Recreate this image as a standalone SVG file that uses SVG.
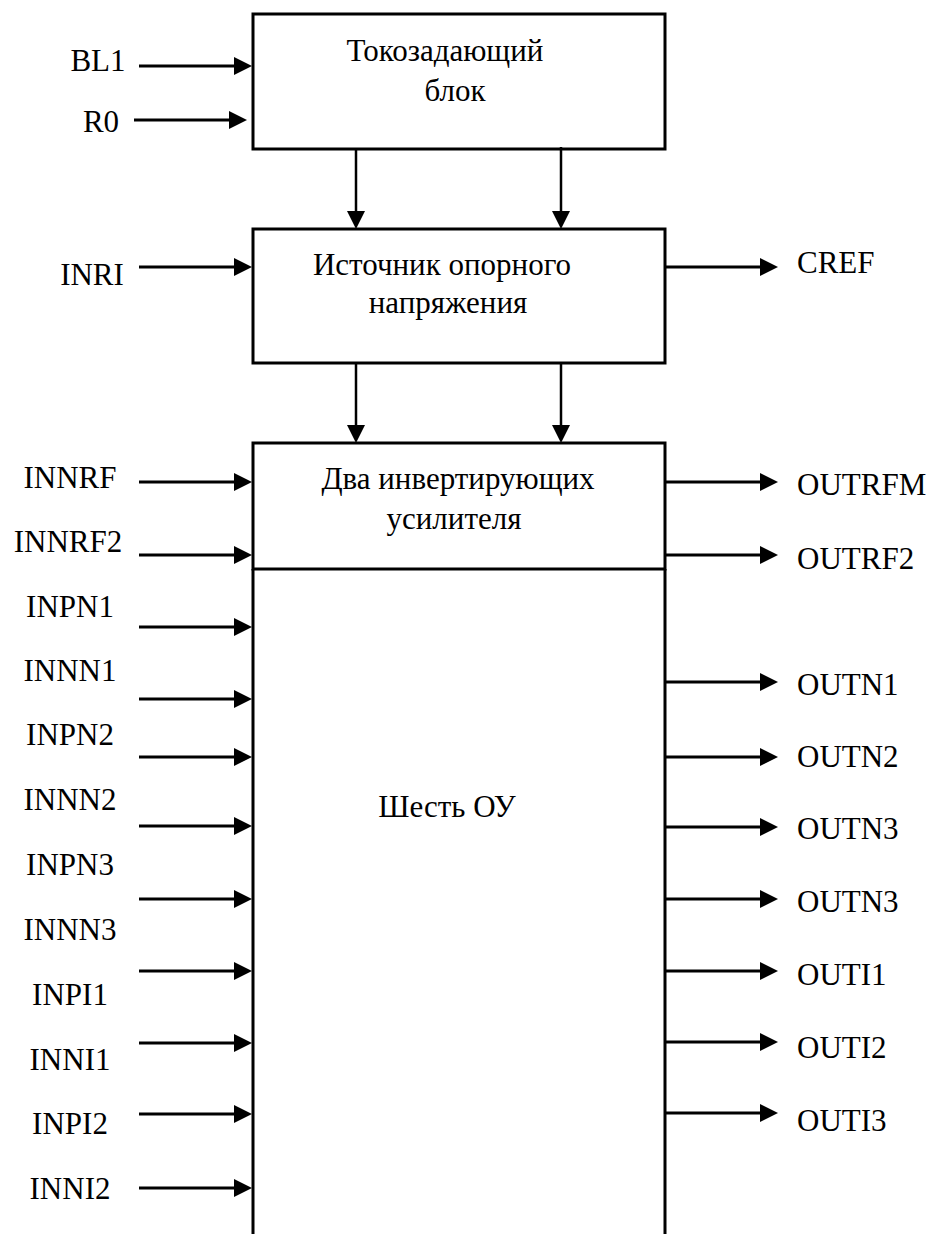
<svg xmlns="http://www.w3.org/2000/svg" width="930" height="1234" viewBox="0 0 930 1234">
<style>
  .box { fill: #ffffff; stroke: #000000; stroke-width: 3; }
  .t { font-size: 31px; fill: #000000; }
  .c { text-anchor: middle; }
  .h { stroke: #000000; stroke-width: 3; fill: none; marker-end: url(#ah); }
  .v { stroke: #000000; stroke-width: 2.5; fill: none; marker-end: url(#ah); }
</style>
<defs>
  <marker id="ah" markerUnits="userSpaceOnUse" viewBox="0 0 18 18" markerWidth="18" markerHeight="18" refX="1" refY="9" orient="auto">
    <path d="M0,0 L18,9 L0,18 Z" fill="#000000"/>
  </marker>
</defs>
<rect width="930" height="1234" fill="#ffffff"/>

<g id="node-tokozad" font-family="Liberation Serif">
  <rect class="box" x="253" y="14" width="412" height="135"/>
  <text class="t c" x="445" y="61">Токозадающий</text>
  <text class="t c" x="455" y="101">блок</text>
</g>

<g id="node-ion" font-family="Liberation Serif">
  <rect class="box" x="253" y="229" width="412" height="134"/>
  <text class="t c" x="442" y="275">Источник опорного</text>
  <text class="t c" x="448" y="313">напряжения</text>
</g>

<g id="node-amps" font-family="Liberation Serif">
  <rect class="box" x="253" y="443" width="412" height="126"/>
  <text class="t c" x="458" y="489">Два инвертирующих</text>
  <text class="t c" x="454" y="529">усилителя</text>
</g>

<g id="node-ou" font-family="Liberation Serif">
  <path d="M253,569 L253,1240 M665,569 L665,1240" stroke="#000000" stroke-width="3" fill="none"/>
  <text class="t c" x="447" y="817">Шесть ОУ</text>
</g>

<g id="connectors">
  <line class="v" x1="356" y1="149" x2="356" y2="212"/>
  <line class="v" x1="561" y1="147" x2="561" y2="212"/>
  <line class="v" x1="356" y1="363" x2="356" y2="426"/>
  <line class="v" x1="561" y1="363" x2="561" y2="426"/>
  <line class="h" x1="139" y1="66" x2="235" y2="66"/>
  <line class="h" x1="134" y1="120" x2="230" y2="120"/>
  <line class="h" x1="139" y1="267" x2="235" y2="267"/>
  <line class="h" x1="139" y1="482" x2="235" y2="482"/>
  <line class="h" x1="139" y1="555" x2="235" y2="555"/>
  <line class="h" x1="139" y1="627" x2="235" y2="627"/>
  <line class="h" x1="139" y1="699" x2="235" y2="699"/>
  <line class="h" x1="139" y1="757" x2="235" y2="757"/>
  <line class="h" x1="139" y1="826" x2="235" y2="826"/>
  <line class="h" x1="139" y1="899" x2="235" y2="899"/>
  <line class="h" x1="139" y1="971" x2="235" y2="971"/>
  <line class="h" x1="139" y1="1043" x2="235" y2="1043"/>
  <line class="h" x1="139" y1="1114" x2="235" y2="1114"/>
  <line class="h" x1="139" y1="1188" x2="235" y2="1188"/>
  <line class="h" x1="665" y1="267" x2="761" y2="267"/>
  <line class="h" x1="665" y1="482" x2="761" y2="482"/>
  <line class="h" x1="665" y1="555" x2="761" y2="555"/>
  <line class="h" x1="665" y1="682" x2="761" y2="682"/>
  <line class="h" x1="665" y1="757" x2="761" y2="757"/>
  <line class="h" x1="665" y1="827" x2="761" y2="827"/>
  <line class="h" x1="665" y1="899" x2="761" y2="899"/>
  <line class="h" x1="665" y1="971" x2="761" y2="971"/>
  <line class="h" x1="665" y1="1042" x2="761" y2="1042"/>
  <line class="h" x1="665" y1="1113" x2="761" y2="1113"/>
</g>

<g id="labels-left" font-family="Liberation Serif">
  <text class="t c" x="98" y="71">BL1</text>
  <text class="t c" x="101" y="132">R0</text>
  <text class="t c" x="92" y="285">INRI</text>
  <text class="t c" x="70" y="488">INNRF</text>
  <text class="t c" x="68" y="552">INNRF2</text>
  <text class="t c" x="70" y="617">INPN1</text>
  <text class="t c" x="70" y="681">INNN1</text>
  <text class="t c" x="70" y="745">INPN2</text>
  <text class="t c" x="70" y="810">INNN2</text>
  <text class="t c" x="70" y="875">INPN3</text>
  <text class="t c" x="70" y="940">INNN3</text>
  <text class="t c" x="70" y="1005">INPI1</text>
  <text class="t c" x="70" y="1070">INNI1</text>
  <text class="t c" x="70" y="1134">INPI2</text>
  <text class="t c" x="70" y="1199">INNI2</text>
</g>

<g id="labels-right" font-family="Liberation Serif">
  <text class="t" x="797" y="273">CREF</text>
  <text class="t" x="797" y="495">OUTRFM</text>
  <text class="t" x="797" y="569">OUTRF2</text>
  <text class="t" x="797" y="695">OUTN1</text>
  <text class="t" x="797" y="767">OUTN2</text>
  <text class="t" x="797" y="839">OUTN3</text>
  <text class="t" x="797" y="912">OUTN3</text>
  <text class="t" x="797" y="985">OUTI1</text>
  <text class="t" x="797" y="1058">OUTI2</text>
  <text class="t" x="797" y="1131">OUTI3</text>
</g>
</svg>
